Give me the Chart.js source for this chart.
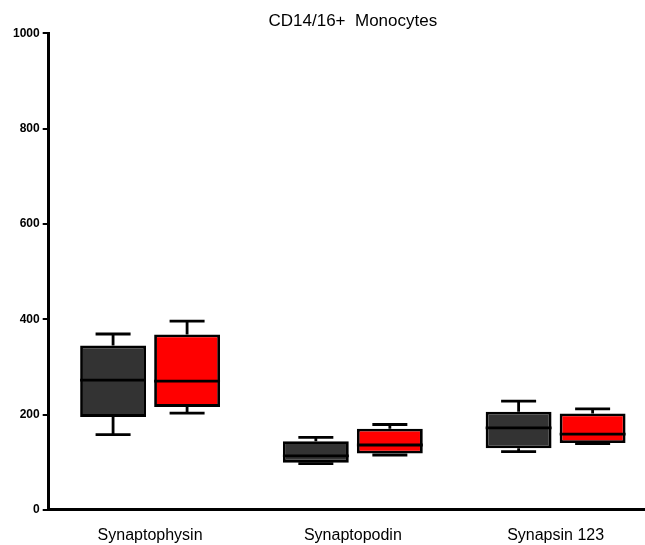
<!DOCTYPE html>
<html>
<head>
<meta charset="utf-8">
<script src="https://cdn.jsdelivr.net/npm/chart.js@4"></script>
<style>
html,body{margin:0;padding:0;overflow:hidden;background:#fff;width:645px;height:545px;}
#wrap{width:657px;height:545px;}
</style>
</head>
<body>
<div id="wrap"><canvas id="c" width="657" height="545"></canvas></div>
<script>
const categories = ['Synaptophysin', 'Synaptopodin', 'Synapsin 123'];
const yTicks = [0, 200, 400, 600, 800, 1000];

const seriesAName = 'Series A';
const seriesAMin    = [158,  97, 122];
const seriesAQ1     = [195,  99, 129];
const seriesAMedian = [272, 113, 172];
const seriesAQ3     = [345, 144, 206];
const seriesAMax    = [369, 152, 228];

const seriesBName = 'Series B';
const seriesBMin    = [203, 115, 139];
const seriesBQ1     = [216, 118, 140];
const seriesBMedian = [270, 136, 159];
const seriesBQ3     = [368, 170, 202];
const seriesBMax    = [396, 179, 212];

const FONT = '"Liberation Sans", Arial, sans-serif';

const stats = [
  {min: seriesAMin, q1: seriesAQ1, med: seriesAMedian, q3: seriesAQ3, max: seriesAMax},
  {min: seriesBMin, q1: seriesBQ1, med: seriesBMedian, q3: seriesBQ3, max: seriesBMax}
];

const boxPlugin = {
  id: 'boxWhiskers',
  afterDatasetsDraw(chart) {
    const ctx = chart.ctx;
    const ys = chart.scales.y;
    ctx.save();
    ctx.strokeStyle = '#000';
    ctx.lineWidth = 2.8;
    ctx.lineCap = 'butt';
    stats.forEach((s, di) => {
      const meta = chart.getDatasetMeta(di);
      meta.data.forEach((el, j) => {
        const x = el.x;
        const half = el.width / 2;
        const capHalf = 17.5;
        const pMax = ys.getPixelForValue(s.max[j]);
        const pMin = ys.getPixelForValue(s.min[j]);
        const pQ1 = ys.getPixelForValue(s.q1[j]);
        const pQ3 = ys.getPixelForValue(s.q3[j]);
        const pMed = ys.getPixelForValue(s.med[j]);
        ctx.beginPath();
        ctx.moveTo(x, pQ3); ctx.lineTo(x, pMax);
        ctx.moveTo(x - capHalf, pMax); ctx.lineTo(x + capHalf, pMax);
        ctx.moveTo(x, pQ1); ctx.lineTo(x, pMin);
        ctx.moveTo(x - capHalf, pMin); ctx.lineTo(x + capHalf, pMin);
        ctx.moveTo(x - half, pMed); ctx.lineTo(x + half, pMed);
        ctx.stroke();
      });
    });
    ctx.restore();
  }
};

new Chart(document.getElementById('c'), {
  type: 'bar',
  data: {
    labels: categories,
    datasets: [
      {
        label: seriesAName,
        data: seriesAQ1.map((v, i) => [v, seriesAQ3[i]]),
        backgroundColor: '#333333',
        borderColor: '#000000',
        borderWidth: 2.8,
        borderSkipped: false,
        barPercentage: 0.89,
        categoryPercentage: 0.73
      },
      {
        label: seriesBName,
        data: seriesBQ1.map((v, i) => [v, seriesBQ3[i]]),
        backgroundColor: '#ff0000',
        borderColor: '#000000',
        borderWidth: 2.8,
        borderSkipped: false,
        barPercentage: 0.89,
        categoryPercentage: 0.73
      }
    ]
  },
  options: {
    responsive: false,
    animation: false,
    layout: {padding: {left: 10, right: 0, top: 0, bottom: -16}},
    plugins: {
      legend: {display: false},
      tooltip: {enabled: false},
      title: {
        display: true,
        text: 'CD14/16+  Monocytes',
        fullSize: false,
        color: '#000',
        font: {family: FONT, size: 17, weight: 'normal'},
        padding: {top: 11, bottom: 2}
      }
    },
    scales: {
      x: {
        grid: {display: false, drawTicks: false},
        border: {display: true, color: '#000', width: 3},
        ticks: {color: '#000', font: {family: FONT, size: 16}, padding: 16}
      },
      y: {
        min: 0,
        max: 1000,
        afterBuildTicks(scale) { scale.ticks = yTicks.map(v => ({value: v})); },
        grid: {drawOnChartArea: false, drawTicks: true, tickLength: 6, color: '#000', lineWidth: 2},
        border: {display: true, color: '#000', width: 3},
        ticks: {
          color: '#000',
          font: {family: FONT, size: 12, weight: 'bold'},
          padding: 3,
          callback: (v) => String(v)
        }
      }
    }
  },
  plugins: [boxPlugin]
});
</script>
</body>
</html>
